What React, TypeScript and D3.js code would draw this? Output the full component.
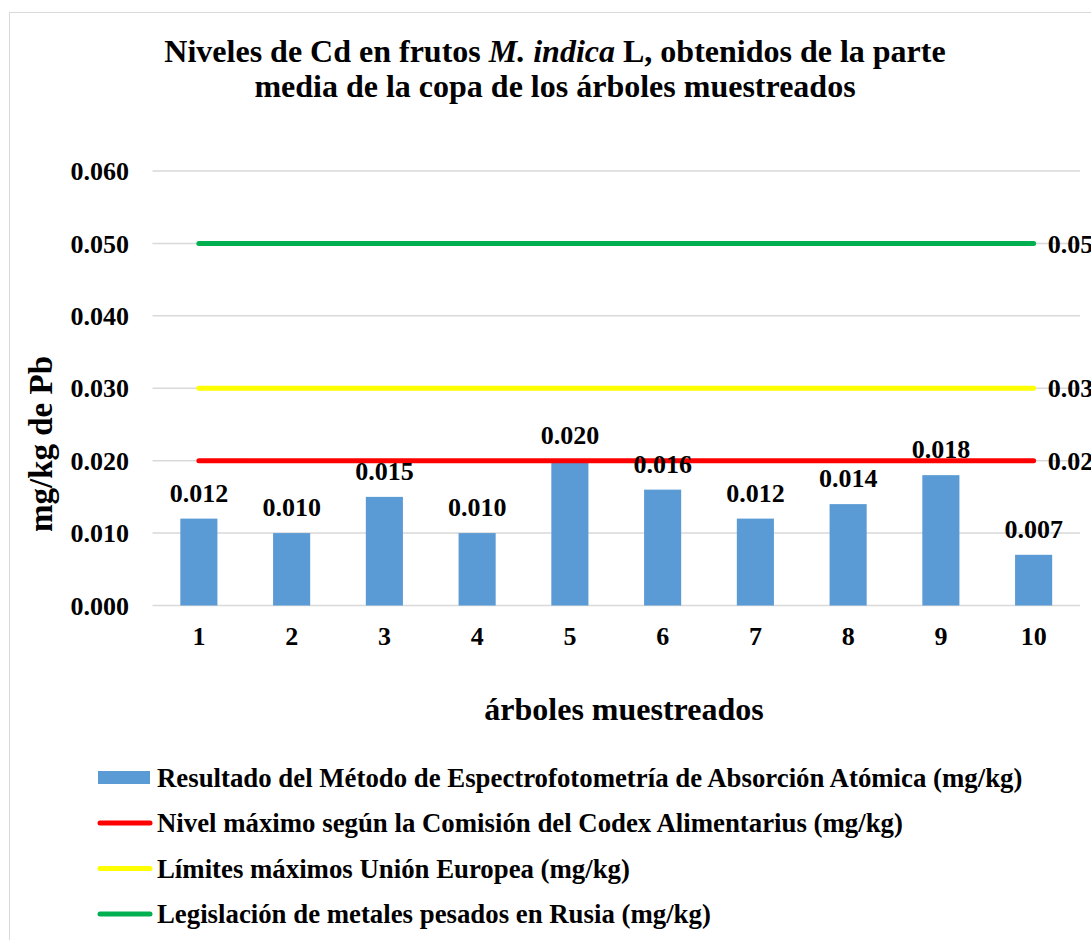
import React from "react";
import * as d3 from "d3";

// árboles muestreados
const categories = ["1", "2", "3", "4", "5", "6", "7", "8", "9", "10"];
const barValues = [0.012, 0.01, 0.015, 0.01, 0.02, 0.016, 0.012, 0.014, 0.018, 0.007];
const codexValues = [0.02, 0.02, 0.02, 0.02, 0.02, 0.02, 0.02, 0.02, 0.02, 0.02];
const ueValues = [0.03, 0.03, 0.03, 0.03, 0.03, 0.03, 0.03, 0.03, 0.03, 0.03];
const rusiaValues = [0.05, 0.05, 0.05, 0.05, 0.05, 0.05, 0.05, 0.05, 0.05, 0.05];
const yTicks = [0, 0.01, 0.02, 0.03, 0.04, 0.05, 0.06];

const legendNames = [
  "Resultado del Método de Espectrofotometría de Absorción Atómica (mg/kg)",
  "Nivel máximo según la Comisión del Codex Alimentarius (mg/kg)",
  "Límites máximos Unión Europea (mg/kg)",
  "Legislación de metales pesados en Rusia (mg/kg)",
];

const FONT = "'Liberation Serif', 'Times New Roman', serif";
const W = 1091;
const H = 940;

function drawChart(svgRef) {
  const svg = d3.select(svgRef.current);
  svg.selectAll("*").remove();

  const left = 152.5;
  const right = 1080;
  const top = 171;
  const bottom = 605.5;

  const x = d3.scaleBand().domain(categories).range([left, right]).paddingInner(0.6).paddingOuter(0.3);
  const y = d3.scaleLinear().domain([0, 0.06]).range([bottom, top]);
  const cx = (c) => x(c) + x.bandwidth() / 2;

  // chart border (cropped on right and bottom)
  svg.append("rect")
    .attr("x", 9.5).attr("y", 12.5)
    .attr("width", W + 20).attr("height", H + 20)
    .attr("fill", "white").attr("stroke", "#d9d9d9").attr("stroke-width", 1);

  // title
  const title = svg.append("text")
    .attr("text-anchor", "middle")
    .attr("font-family", FONT).attr("font-weight", "bold").attr("font-size", 32);
  const t1 = title.append("tspan").attr("x", 555).attr("y", 62);
  t1.append("tspan").text("Niveles de Cd en frutos ");
  t1.append("tspan").attr("font-style", "italic").text("M. indica");
  t1.append("tspan").text(" L, obtenidos de la parte");
  title.append("tspan").attr("x", 555).attr("y", 97).text("media de la copa de los árboles muestreados");

  // gridlines
  svg.append("g").selectAll("line")
    .data(yTicks)
    .join("line")
    .attr("x1", left).attr("x2", right)
    .attr("y1", (d) => y(d)).attr("y2", (d) => y(d))
    .attr("stroke", "#d9d9d9").attr("stroke-width", 1.5);

  // y tick labels
  svg.append("g").selectAll("text")
    .data(yTicks)
    .join("text")
    .attr("x", 129).attr("y", (d) => y(d))
    .attr("dy", "0.35em")
    .attr("text-anchor", "end")
    .attr("font-family", FONT).attr("font-weight", "bold").attr("font-size", 26)
    .text((d) => d3.format(".3f")(d));

  // y title
  svg.append("text")
    .attr("transform", `translate(52,444) rotate(-90)`)
    .attr("text-anchor", "middle")
    .attr("font-family", FONT).attr("font-weight", "bold").attr("font-size", 33)
    .text("mg/kg de Pb");

  // bars
  svg.append("g").selectAll("rect")
    .data(barValues)
    .join("rect")
    .attr("x", (d, i) => x(categories[i]))
    .attr("y", (d) => y(d))
    .attr("width", x.bandwidth())
    .attr("height", (d) => bottom - y(d))
    .attr("fill", "#5b9bd5");

  // x tick labels
  svg.append("g").selectAll("text")
    .data(categories)
    .join("text")
    .attr("x", (d) => cx(d)).attr("y", 645)
    .attr("text-anchor", "middle")
    .attr("font-family", FONT).attr("font-weight", "bold").attr("font-size", 26)
    .text((d) => d);

  // x title
  svg.append("text")
    .attr("x", 624).attr("y", 720)
    .attr("text-anchor", "middle")
    .attr("font-family", FONT).attr("font-weight", "bold").attr("font-size", 32)
    .text("árboles muestreados");

  // threshold lines
  const line = d3.line()
    .x((d, i) => cx(categories[i]))
    .y((d) => y(d));
  const series = [
    { values: codexValues, color: "#ff0000" },
    { values: ueValues, color: "#ffff00" },
    { values: rusiaValues, color: "#00b050" },
  ];
  series.forEach((s) => {
    svg.append("path")
      .datum(s.values)
      .attr("fill", "none")
      .attr("stroke", s.color)
      .attr("stroke-width", 5)
      .attr("stroke-linecap", "round")
      .attr("d", line);
    const last = s.values.length - 1;
    svg.append("text")
      .attr("x", cx(categories[last]) + 14)
      .attr("y", y(s.values[last]))
      .attr("dy", "0.35em")
      .attr("font-family", FONT).attr("font-weight", "bold").attr("font-size", 26)
      .text(d3.format(".3f")(s.values[last]));
  });

  // bar labels
  svg.append("g").selectAll("text")
    .data(barValues)
    .join("text")
    .attr("x", (d, i) => cx(categories[i]))
    .attr("y", (d) => y(d) - 17)
    .attr("text-anchor", "middle")
    .attr("font-family", FONT).attr("font-weight", "bold").attr("font-size", 26)
    .text((d) => d3.format(".3f")(d));

  // legend
  const legendColors = ["#5b9bd5", "#ff0000", "#ffff00", "#00b050"];
  legendNames.forEach((name, i) => {
    const ly = 777.5 + i * 45.5;
    if (i === 0) {
      svg.append("rect")
        .attr("x", 98).attr("y", ly - 6.5)
        .attr("width", 52).attr("height", 13)
        .attr("fill", legendColors[i]);
    } else {
      svg.append("line")
        .attr("x1", 100).attr("x2", 150)
        .attr("y1", ly).attr("y2", ly)
        .attr("stroke", legendColors[i])
        .attr("stroke-width", 5)
        .attr("stroke-linecap", "round");
    }
    svg.append("text")
      .attr("x", 157).attr("y", ly)
      .attr("dy", "0.35em")
      .attr("font-family", FONT).attr("font-weight", "bold").attr("font-size", 26.8)
      .text(name);
  });
}

export default function App() {
  const svg = React.useRef(null);

  React.useEffect(() => {
    drawChart(svg);
  }, []);

  return (
    <div style={{ position: "absolute", left: 0, top: 0, width: W, height: H, overflow: "hidden", background: "white" }}>
      <svg ref={svg} width={W} height={H} style={{ display: "block" }} />
    </div>
  );
}
